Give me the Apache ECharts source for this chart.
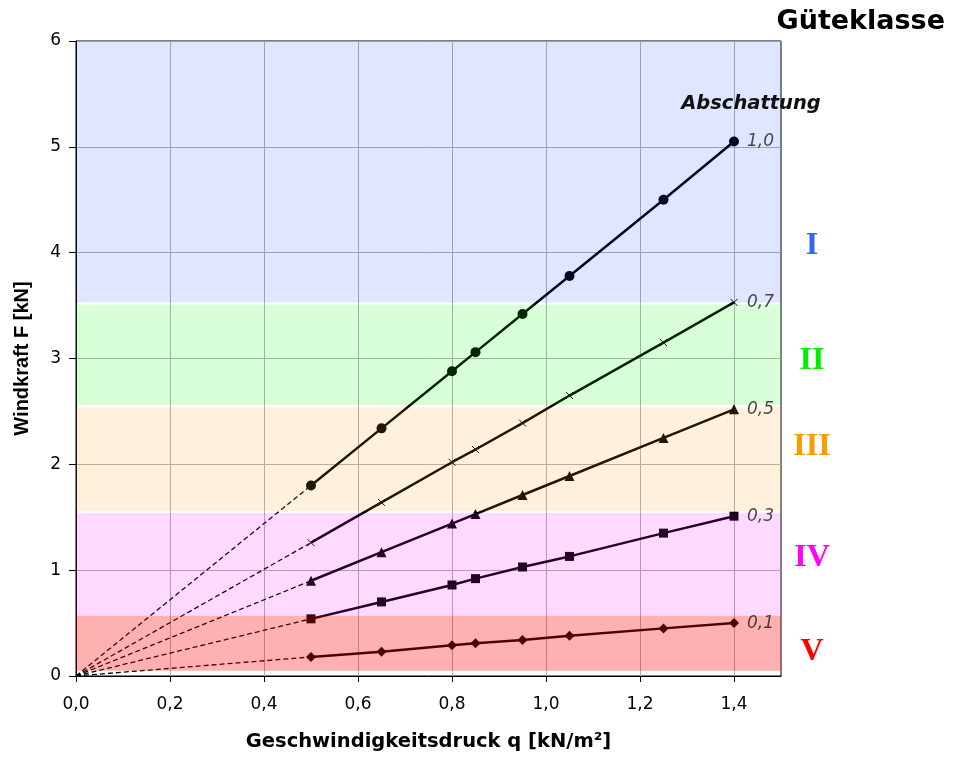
<!DOCTYPE html>
<html>
<head>
<meta charset="utf-8">
<script src="https://cdn.jsdelivr.net/npm/echarts@6/dist/echarts.min.js"></script>
<style>html,body{margin:0;padding:0;background:#fff}#c{width:953px;height:758px}</style>
</head>
<body>
<div id="c"></div>
<script>
// ---- data ----
const q = [0.5, 0.65, 0.8, 0.85, 0.95, 1.05, 1.25, 1.4];
const F10 = [1.80, 2.34, 2.88, 3.06, 3.42, 3.78, 4.50, 5.05];
const F07 = [1.26, 1.64, 2.02, 2.14, 2.39, 2.65, 3.15, 3.53];
const F05 = [0.90, 1.17, 1.44, 1.53, 1.71, 1.89, 2.25, 2.52];
const F03 = [0.54, 0.70, 0.86, 0.92, 1.03, 1.13, 1.35, 1.51];
const F01 = [0.18, 0.23, 0.29, 0.31, 0.34, 0.38, 0.45, 0.50];
const shadingLabels = ['1,0', '0,7', '0,5', '0,3', '0,1'];
const seriesValues = [F10, F07, F05, F03, F01];
const classNames = ['I', 'II', 'III', 'IV', 'V'];
const bandLow = [3.53, 2.56, 1.56, 0.57, 0.05];
const bandHigh = [6.00, 3.51, 2.54, 1.54, 0.57];
const xTickValues = [0, 0.2, 0.4, 0.6, 0.8, 1.0, 1.2, 1.4];
const yTickValues = [0, 1, 2, 3, 4, 5, 6];

// ---- styles ----
const symbols = ['circle', 'path://M0,0L10,10M10,0L0,10', 'triangle', 'rect', 'diamond'];
const symbolSizes = [10, 7, 10, 9, 10];
const bandColors = ['rgba(0,50,255,0.12)', 'rgba(0,255,0,0.15)', 'rgba(255,153,0,0.14)', 'rgba(255,0,255,0.15)', 'rgba(255,0,0,0.31)'];
const classColors = ['#3366FF', '#00EE00', '#FF9900', '#FF00FF', '#FF0000'];
const classY = [246, 361, 447, 558, 652];

const chart = echarts.init(document.getElementById('c'), null, {renderer: 'canvas'});
const fmt = v => v.toFixed(1).replace('.', ',');

const series = [];
seriesValues.forEach((vals, i) => {
  series.push({
    type: 'line', z: 2, silent: true, animation: false,
    data: q.map((x, k) => [x, vals[k]]),
    symbol: symbols[i], symbolSize: symbolSizes[i], showSymbol: true,
    lineStyle: {color: '#000', width: 2.5},
    itemStyle: {color: '#000', borderColor: '#000', borderWidth: i === 1 ? 1 : 0}
  });
  series.push({
    type: 'line', z: 2, silent: true, animation: false,
    data: [[0, 0], [q[0], vals[0]]],
    symbol: 'none',
    lineStyle: {color: '#000', width: 1.3, type: [5, 3]}
  });
});
series.push({
  type: 'line', data: [], silent: true, animation: false,
  markArea: {
    silent: true, z: 3,
    data: classNames.map((n, i) => [
      {xAxis: 0, yAxis: bandLow[i], itemStyle: {color: bandColors[i]}},
      {xAxis: 1.5, yAxis: bandHigh[i]}
    ])
  }
});
series.push({
  type: 'scatter', z: 10, silent: true, animation: false,
  symbolSize: 0,
  data: seriesValues.map((vals, i) => ({value: [q[q.length - 1], vals[vals.length - 1]], name: shadingLabels[i]})),
  label: {
    show: true, position: 'right', distance: 13,
    formatter: p => p.name,
    fontFamily: 'DejaVu Sans', fontStyle: 'italic', fontSize: 17, color: '#1a1a1a'
  }
});

chart.setOption({
  animation: false,
  grid: {left: 76, right: 172, top: 41, bottom: 82, show: true, borderColor: '#000', borderWidth: 1, backgroundColor: 'transparent'},
  xAxis: {
    type: 'value', min: 0, max: 1.5, interval: 0.1,
    name: 'Geschwindigkeitsdruck q [kN/m²]', nameLocation: 'middle', nameGap: 56,
    nameTextStyle: {fontFamily: 'DejaVu Sans', fontWeight: 'bold', fontSize: 19.5, color: '#000'},
    axisLine: {show: true, onZero: false, lineStyle: {color: '#000', width: 1}},
    axisTick: {show: true, length: 6, customValues: xTickValues, lineStyle: {color: '#000'}},
    axisLabel: {customValues: xTickValues, formatter: fmt, margin: 20, fontFamily: 'DejaVu Sans', fontSize: 17, color: '#000'},
    splitLine: {show: true, lineStyle: {color: '#b0b0b0', width: 1}}
  },
  yAxis: {
    type: 'value', min: 0, max: 6, interval: 0.5,
    name: 'Windkraft F [kN]', nameLocation: 'middle', nameGap: 44,
    nameTextStyle: {fontFamily: 'Liberation Sans', fontWeight: 'bold', fontSize: 20, color: '#000'},
    axisLine: {show: true, onZero: false, lineStyle: {color: '#000', width: 1}},
    axisTick: {show: true, length: 7, customValues: yTickValues, lineStyle: {color: '#000'}},
    axisLabel: {customValues: yTickValues, formatter: v => String(v), margin: 15, fontFamily: 'DejaVu Sans', fontSize: 17, color: '#000'},
    splitLine: {show: true, lineStyle: {color: '#b0b0b0', width: 1}}
  },
  series: series,
  graphic: [
    {type: 'text', right: 8, top: 8, z: 20,
     style: {text: 'Güteklasse', fontFamily: 'DejaVu Sans', fontWeight: 'bold', fontSize: 27, fill: '#000'}},
    {type: 'text', x: 751, y: 104, z: 20,
     style: {text: 'Abschattung', fontFamily: 'DejaVu Sans', fontWeight: 'bold', fontStyle: 'italic', fontSize: 19.5, fill: '#111', align: 'center', verticalAlign: 'middle'}}
  ].concat(classNames.map((n, i) => ({
    type: 'text', x: 812, y: classY[i], z: 20,
    style: {text: n, fontFamily: 'Liberation Serif', fontWeight: 'bold', fontSize: 32, fill: classColors[i], align: 'center', verticalAlign: 'middle'}
  })))
});
</script>
</body>
</html>
